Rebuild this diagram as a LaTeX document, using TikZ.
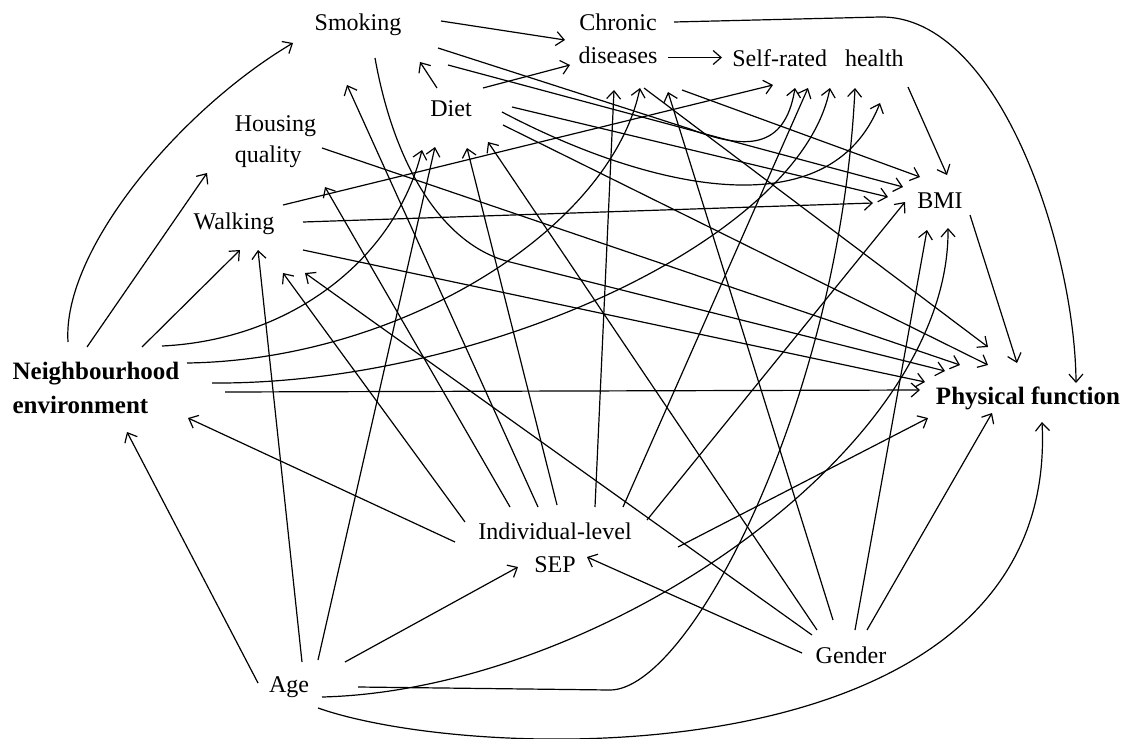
\documentclass[tikz,border=0pt]{standalone}
\usepackage{fontspec}
\setmainfont{Liberation Serif}
\usetikzlibrary{arrows.meta,calc}
\begin{document}
\begin{tikzpicture}[x=0.5pt,y=-0.5pt,
  lbl/.style={inner sep=0pt, font=\fontsize{12}{16.5}\selectfont},
  blbl/.style={inner sep=0pt, font=\bfseries\fontsize{12.5}{17}\selectfont},
  arr/.style={-{Straight Barb[length=4pt,width=7pt]}, line width=0.6pt}]
\fill[white] (0,0) rectangle (1128,738);
\useasboundingbox (0,0) rectangle (1128,738);

% variables
\node[lbl] (smk) at (358,24.5) {Smoking};
\node[lbl,align=center] (chr) at (618,39) {Chronic\\diseases};
\node[lbl] (srh) at (818,58) {Self-rated\hspace{0.5em} health};
\node[lbl] (diet) at (451,109) {Diet};
\node[lbl,align=left] (hq) at (275.5,142) {Housing\\[-1pt]quality};
\node[lbl] (walk) at (234,223.5) {Walking};
\node[lbl] (bmi) at (940,201) {BMI};
\node[blbl,align=left] (ne) at (96,387.5) {Neighbourhood\\environment};
\node[blbl] (pf) at (1028,398) {Physical function};
\node[lbl,align=center] (sep) at (555,548) {Individual-level\\SEP};
\node[lbl] (gen) at (851,655) {Gender};
\node[lbl] (age) at (289,687) {Age};

% neighbourhood environment
\draw[arr] ($(ne)+(-28,-45.5)$) .. controls +(-6,-92) and +(-113,67) .. ($(smk)+(-65,18.5)$);
\draw[arr] ($(ne)+(-9,-40.5)$) -- ($(hq)+(-68.5,31)$);
\draw[arr] ($(ne)+(46,-40.5)$) -- ($(walk)+(6,26.5)$);
\draw[arr] ($(ne)+(66,-41.5)$) .. controls +(128,-6) and +(-27,110) .. ($(diet)+(-29,41)$);
\draw[arr] ($(ne)+(91,-24.5)$) .. controls +(213,-3) and +(-30,142) .. ($(chr)+(22,49)$);
\draw[arr] ($(ne)+(116,-4.5)$) .. controls +(268,2) and +(-30,152) .. ($(srh)+(12,30)$);
\draw[arr] ($(ne)+(129,4.5)$) -- ($(pf)+(-108,-8)$);

% individual-level SEP
\draw[arr] ($(sep)+(-100,-6)$) -- ($(ne)+(92,30.5)$);
\draw[arr] ($(sep)+(-17,-41)$) -- ($(smk)+(-11,60.5)$);
\draw[arr] ($(sep)+(-45,-41)$) -- ($(hq)+(49.5,45)$);
\draw[arr] ($(sep)+(-90,-26)$) -- ($(walk)+(49,49.5)$);
\draw[arr] ($(sep)+(2,-43)$) -- ($(diet)+(16,39)$);
\draw[arr] ($(sep)+(40,-41)$) -- ($(chr)+(-4,51)$);
\draw[arr] ($(sep)+(68,-41)$) -- ($(srh)+(-10,30)$);
\draw[arr] ($(sep)+(92,-28)$) -- ($(bmi)+(-35,1)$);
\draw[arr] ($(sep)+(123,-1)$) -- ($(pf)+(-100,20)$);

% age
\draw[arr] ($(age)+(-31,-4)$) -- ($(ne)+(31,44.5)$);
\draw[arr] ($(age)+(13,-25)$) -- ($(walk)+(24,26.5)$);
\draw[arr] ($(age)+(29,-27)$) -- ($(diet)+(-16,38)$);
\draw[arr] ($(age)+(56,-25)$) -- ($(sep)+(-37,19)$);
\draw[arr] ($(age)+(69,0)$) -- ++(252,3) .. controls +(80,0) and +(-15,312) .. ($(srh)+(37,30)$);
\draw[arr] ($(age)+(33,10)$) .. controls +(278,-7) and +(2,222) .. ($(bmi)+(8,27)$);
\draw[arr] ($(age)+(29,21)$) .. controls +(162,57) and +(18,358) .. ($(pf)+(14,24)$);

% gender
\draw[arr] ($(gen)+(-49,-2)$) -- ($(sep)+(32,9)$);
\draw[arr] ($(gen)+(-39,-20)$) -- ($(walk)+(71,49.5)$);
\draw[arr] ($(gen)+(-34,-25)$) -- ($(diet)+(37,33)$);
\draw[arr] ($(gen)+(-18,-35)$) -- ($(chr)+(50,53)$);
\draw[arr] ($(gen)+(4,-25)$) -- ($(bmi)+(-13,29)$);
\draw[arr] ($(gen)+(16,-25)$) -- ($(pf)+(-36,15)$);

% diet
\draw[arr] ($(diet)+(-14,-21)$) -- ($(smk)+(62,37.5)$);
\draw[arr] ($(diet)+(32,-21)$) -- ($(chr)+(-48,26)$);
\draw[arr] ($(diet)+(51,3)$) .. controls +(148,78) and +(-50,127) .. ($(srh)+(62,45)$);
\draw[arr] ($(diet)+(61,-2)$) -- ($(bmi)+(-52,-4)$);
\draw[arr] ($(diet)+(52,16)$) -- ($(pf)+(-40,-33)$);

% smoking
\draw[arr] ($(smk)+(83,-3.5)$) -- ($(chr)+(-53,1)$);
\draw[arr] ($(smk)+(80,23.5)$) -- ++(252,81) .. controls +(55,21) and +(-10,62) .. ($(srh)+(-23,30)$);
\draw[arr] ($(smk)+(90,40.5)$) -- ($(bmi)+(-37,-14)$);
\draw[arr] ($(smk)+(17,33.5)$) .. controls +(20,112) and +(-65,-16) .. ($(smk)+(152,237.5)$) -- ($(pf)+(-83,-27)$);

% chronic diseases
\draw[arr] ($(chr)+(50,18.5)$) -- ($(srh)+(-96,-0.5)$);
\draw[arr] ($(chr)+(64,51)$) -- ($(bmi)+(-20,-24)$);
\draw[arr] ($(chr)+(26,49)$) -- ($(pf)+(-40,-51)$);
\draw[arr] ($(chr)+(56,-17)$) -- ++(206,-5) .. controls +(120,-2) and +(-1,-133) .. ($(pf)+(48,-15)$);

% walking
\draw[arr] ($(walk)+(49,-18.5)$) -- ($(srh)+(-45,27)$);
\draw[arr] ($(walk)+(69,-1.5)$) -- ($(bmi)+(-67,2)$);
\draw[arr] ($(walk)+(69,26.5)$) -- ($(pf)+(-103,-16)$);

% housing quality
\draw[arr] ($(hq)+(46.5,6)$) -- ($(pf)+(-68,-33)$);

% self-rated health and BMI
\draw[arr] ($(srh)+(90,29)$) -- ($(bmi)+(7,-26)$);
\draw[arr] ($(bmi)+(30,14)$) -- ($(pf)+(-11,-35)$);
\end{tikzpicture}
\end{document}
